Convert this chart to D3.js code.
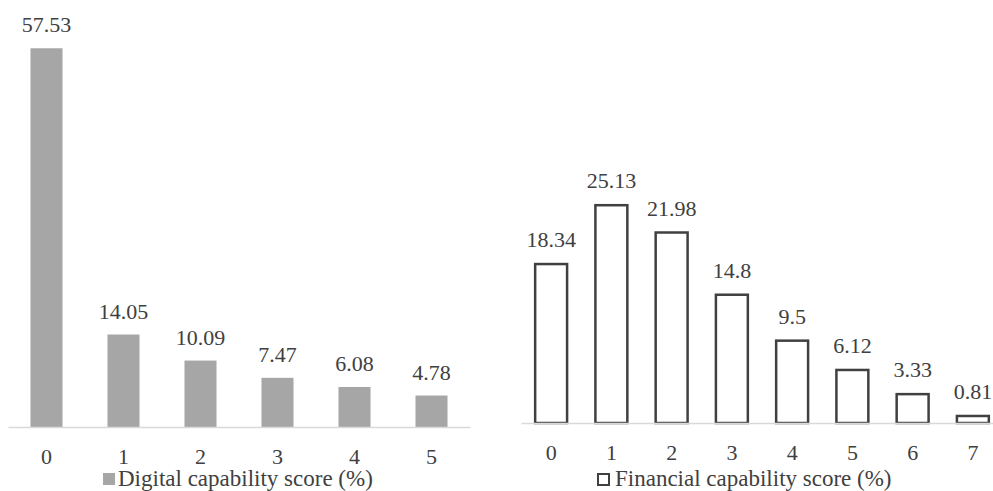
<!DOCTYPE html>
<html>
<head>
<meta charset="utf-8">
<script src="https://cdn.jsdelivr.net/npm/d3@7"></script>
<style>
  body { margin: 0; background: #fff; }
  svg { display: block; font-family: "Liberation Serif", "Times New Roman", serif; }
</style>
</head>
<body>
<div id="chart"></div>
<script>
"use strict";

const width = 993,
      height = 491;

// chart data
const digitalScores = ["0", "1", "2", "3", "4", "5"];
const digitalValues = [57.53, 14.05, 10.09, 7.47, 6.08, 4.78];
const financialScores = ["0", "1", "2", "3", "4", "5", "6", "7"];
const financialValues = [18.34, 25.13, 21.98, 14.8, 9.5, 6.12, 3.33, 0.81];
const digitalLegend = "Digital capability score (%)";
const financialLegend = "Financial capability score (%)";

const textColor = "#404040";

const svg = d3.select("#chart")
  .append("svg")
  .attr("width", width)
  .attr("height", height);

// left panel
const xLeft = d3.scaleBand()
  .domain(digitalScores)
  .range([8, 470])
  .paddingInner(0.584)
  .paddingOuter(0.292);

const yLeft = d3.scaleLinear()
  .domain([0, 60])
  .range([427, 32]);

const left = svg.append("g");

left.selectAll("rect")
  .data(digitalValues)
  .join("rect")
    .attr("x", (d, i) => xLeft(digitalScores[i]))
    .attr("y", d => yLeft(d))
    .attr("width", xLeft.bandwidth())
    .attr("height", d => yLeft(0) - yLeft(d))
    .attr("fill", "#a6a6a6");

left.selectAll("text.val")
  .data(digitalValues)
  .join("text")
    .attr("class", "val")
    .attr("x", (d, i) => xLeft(digitalScores[i]) + xLeft.bandwidth() / 2)
    .attr("y", d => yLeft(d) - 16)
    .attr("text-anchor", "middle")
    .attr("font-size", 22)
    .attr("fill", textColor)
    .text(d => d);

const axisLeft = left.append("g")
  .attr("transform", `translate(0,${yLeft(0)})`)
  .call(d3.axisBottom(xLeft).tickSize(0).tickPadding(21));
axisLeft.select(".domain").attr("stroke", "#d9d9d9").attr("stroke-width", 1.5);
axisLeft.selectAll("text")
  .attr("font-size", 22)
  .attr("font-family", "Liberation Serif, serif")
  .attr("fill", textColor);

const legLeft = left.append("g").attr("transform", "translate(103,473)");
legLeft.append("rect")
  .attr("width", 12).attr("height", 12)
  .attr("fill", "#a6a6a6");
legLeft.append("text")
  .attr("x", 15).attr("y", 13)
  .attr("font-size", 23)
  .attr("fill", textColor)
  .text(digitalLegend);

// right panel
const xRight = d3.scaleBand()
  .domain(financialScores)
  .range([521, 1003])
  .paddingInner(0.47)
  .paddingOuter(0.235);

const yRight = d3.scaleLinear()
  .domain([0, 30])
  .range([423, 163]);

const right = svg.append("g");

right.selectAll("rect")
  .data(financialValues)
  .join("rect")
    .attr("x", (d, i) => xRight(financialScores[i]))
    .attr("y", d => yRight(d))
    .attr("width", xRight.bandwidth())
    .attr("height", d => yRight(0) - yRight(d))
    .attr("fill", "#fff")
    .attr("stroke", "#404040")
    .attr("stroke-width", 2.5);

right.selectAll("text.val")
  .data(financialValues)
  .join("text")
    .attr("class", "val")
    .attr("x", (d, i) => xRight(financialScores[i]) + xRight.bandwidth() / 2)
    .attr("y", d => yRight(d) - 17)
    .attr("text-anchor", "middle")
    .attr("font-size", 22)
    .attr("fill", textColor)
    .text(d => d);

const axisRight = right.append("g")
  .attr("transform", `translate(0,${yRight(0)})`)
  .call(d3.axisBottom(xRight).tickSize(0).tickPadding(21));
axisRight.select(".domain").attr("stroke", "#d9d9d9").attr("stroke-width", 1.5);
axisRight.selectAll("text")
  .attr("font-size", 22)
  .attr("font-family", "Liberation Serif, serif")
  .attr("fill", textColor);

const legRight = right.append("g").attr("transform", "translate(598,474)");
legRight.append("rect")
  .attr("width", 11).attr("height", 11)
  .attr("fill", "#fff")
  .attr("stroke", "#404040")
  .attr("stroke-width", 2);
legRight.append("text")
  .attr("x", 17).attr("y", 12)
  .attr("font-size", 23)
  .attr("fill", textColor)
  .text(financialLegend);
</script>
</body>
</html>
